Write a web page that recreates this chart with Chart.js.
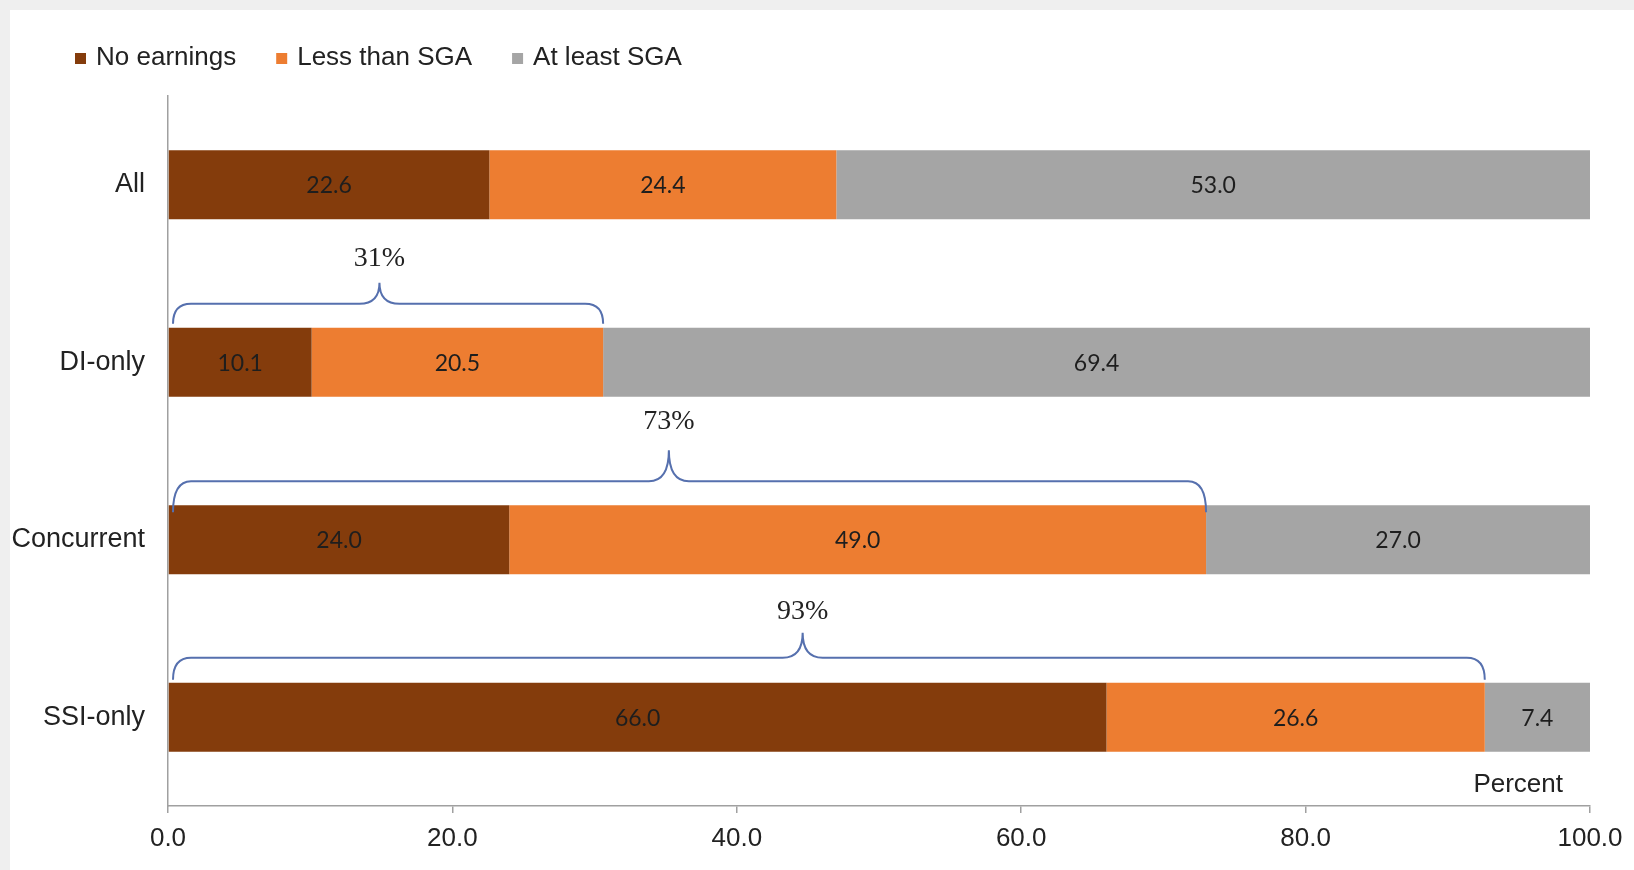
<!DOCTYPE html>
<html>
<head>
<meta charset="utf-8">
<script src="https://cdn.jsdelivr.net/npm/chart.js@4.4.1/dist/chart.umd.min.js"></script>
<style>
html,body{margin:0;padding:0;background:#efefef;overflow:hidden}
#panel{position:absolute;left:10px;top:10px;right:0;bottom:0;background:#fff}
#c{position:absolute;left:0;top:0}
</style>
</head>
<body>
<div id="panel"></div>
<canvas id="c" width="1634" height="870"></canvas>
<script>
// earnings by recipient group, percent of each group
const categories=['All','DI-only','Concurrent','SSI-only'];
const noEarnings=[22.6,10.1,24.0,66.0];
const lessThanSGA=[24.4,20.5,49.0,26.6];
const atLeastSGA=[53.0,69.4,27.0,7.4];
const seriesNames=['No earnings','Less than SGA','At least SGA'];
const xTicks=[0,20,40,60,80,100];
// braces span "No earnings" + "Less than SGA"
const braceRows=['DI-only','Concurrent','SSI-only'];
const braceLabels=['31%','73%','93%'];

const COLORS=['#843c0c','#ed7d31','#a5a5a5'];
const TXT='#222', AXIS='#a0a0a0', BRACE='#5670ae';
const SANS='"Liberation Sans", Arial, sans-serif';
// per-brace geometry, px above the bar top
const braceGeo=[{line:24,tip:45,text:69,drop:-4},{line:24,tip:55,text:83,drop:7},{line:25,tip:50,text:71,drop:-3}];

const valueLabels={id:'valueLabels',
  afterDatasetsDraw(chart){
    const ctx=chart.ctx;
    ctx.save();
    ctx.font='23px Lato, "Open Sans", sans-serif';
    ctx.fillStyle='#1e1e1e';ctx.textAlign='center';ctx.textBaseline='middle';
    chart.data.datasets.forEach((ds,di)=>{
      chart.getDatasetMeta(di).data.forEach((bar,i)=>{
        ctx.fillText(ds.data[i].toFixed(1),(bar.x+bar.base)/2,bar.y+1);
      });
    });
    ctx.restore();
  }};

const braces={id:'braces',
  afterDatasetsDraw(chart){
    const ctx=chart.ctx, xs=chart.scales.x, meta=chart.getDatasetMeta(0);
    ctx.save();
    ctx.strokeStyle=BRACE;ctx.lineWidth=2;
    braceRows.forEach((row,k)=>{
      const i=categories.indexOf(row), bar=meta.data[i], g=braceGeo[k];
      const yb=bar.y-bar.height/2;
      const x0=xs.getPixelForValue(0)+5, x1=xs.getPixelForValue(noEarnings[i]+lessThanSGA[i]);
      const yl=yb-g.line, yt=yb-g.tip, ye=yb+g.drop, xm=x0+(x1-x0)*0.48, r=18, q=20;
      ctx.beginPath();
      ctx.moveTo(x0,ye);
      ctx.quadraticCurveTo(x0,yl,x0+r,yl);
      ctx.lineTo(xm-q,yl);
      ctx.quadraticCurveTo(xm,yl,xm,yt);
      ctx.quadraticCurveTo(xm,yl,xm+q,yl);
      ctx.lineTo(x1-r,yl);
      ctx.quadraticCurveTo(x1,yl,x1,ye);
      ctx.stroke();
      ctx.font='28px "Liberation Serif", "Times New Roman", serif';
      ctx.fillStyle=TXT;ctx.textAlign='center';ctx.textBaseline='middle';
      ctx.fillText(braceLabels[k],xm,yb-g.text);
    });
    ctx.restore();
  }};

// legend and the "Percent" axis note
const extras={id:'extras',
  afterDraw(chart){
    const ctx=chart.ctx, ca=chart.chartArea;
    ctx.save();
    ctx.font='26px '+SANS;ctx.textBaseline='middle';
    let x=75;
    chart.data.datasets.forEach(ds=>{
      ctx.fillStyle=ds.backgroundColor;ctx.fillRect(x,53,11,11);
      ctx.fillStyle=TXT;ctx.textAlign='left';
      ctx.fillText(ds.label,x+21,58);
      x+=21+ctx.measureText(ds.label).width+40;
    });
    ctx.textAlign='right';
    ctx.fillText('Percent',ca.right-27,785);
    ctx.restore();
  }};

new Chart(document.getElementById('c'),{
  type:'bar',
  data:{labels:categories,datasets:[
    {label:seriesNames[0],data:noEarnings,backgroundColor:COLORS[0]},
    {label:seriesNames[1],data:lessThanSGA,backgroundColor:COLORS[1]},
    {label:seriesNames[2],data:atLeastSGA,backgroundColor:COLORS[2]}]},
  options:{
    indexAxis:'y',responsive:false,animation:false,
    categoryPercentage:1,barPercentage:0.39,
    layout:{padding:{top:96,left:0,right:44,bottom:0}},
    plugins:{legend:{display:false},tooltip:{enabled:false}},
    scales:{
      x:{stacked:true,min:0,max:100,
        afterBuildTicks:s=>{s.ticks=xTicks.map(v=>({value:v}));},
        afterFit:s=>{s.height=64;},
        grid:{drawOnChartArea:false,drawTicks:true,tickLength:7,color:AXIS,lineWidth:1.5},
        border:{color:AXIS,width:1.5},
        ticks:{padding:10,color:TXT,font:{family:SANS,size:26},callback:v=>Number(v).toFixed(1),maxRotation:0}},
      y:{stacked:true,
        afterFit:s=>{s.width=168;},
        grid:{display:false},
        border:{color:AXIS,width:1.5},
        ticks:{padding:15,color:TXT,font:{family:SANS,size:27}}}
    }
  },
  plugins:[valueLabels,braces,extras]
});
</script>
</body>
</html>
